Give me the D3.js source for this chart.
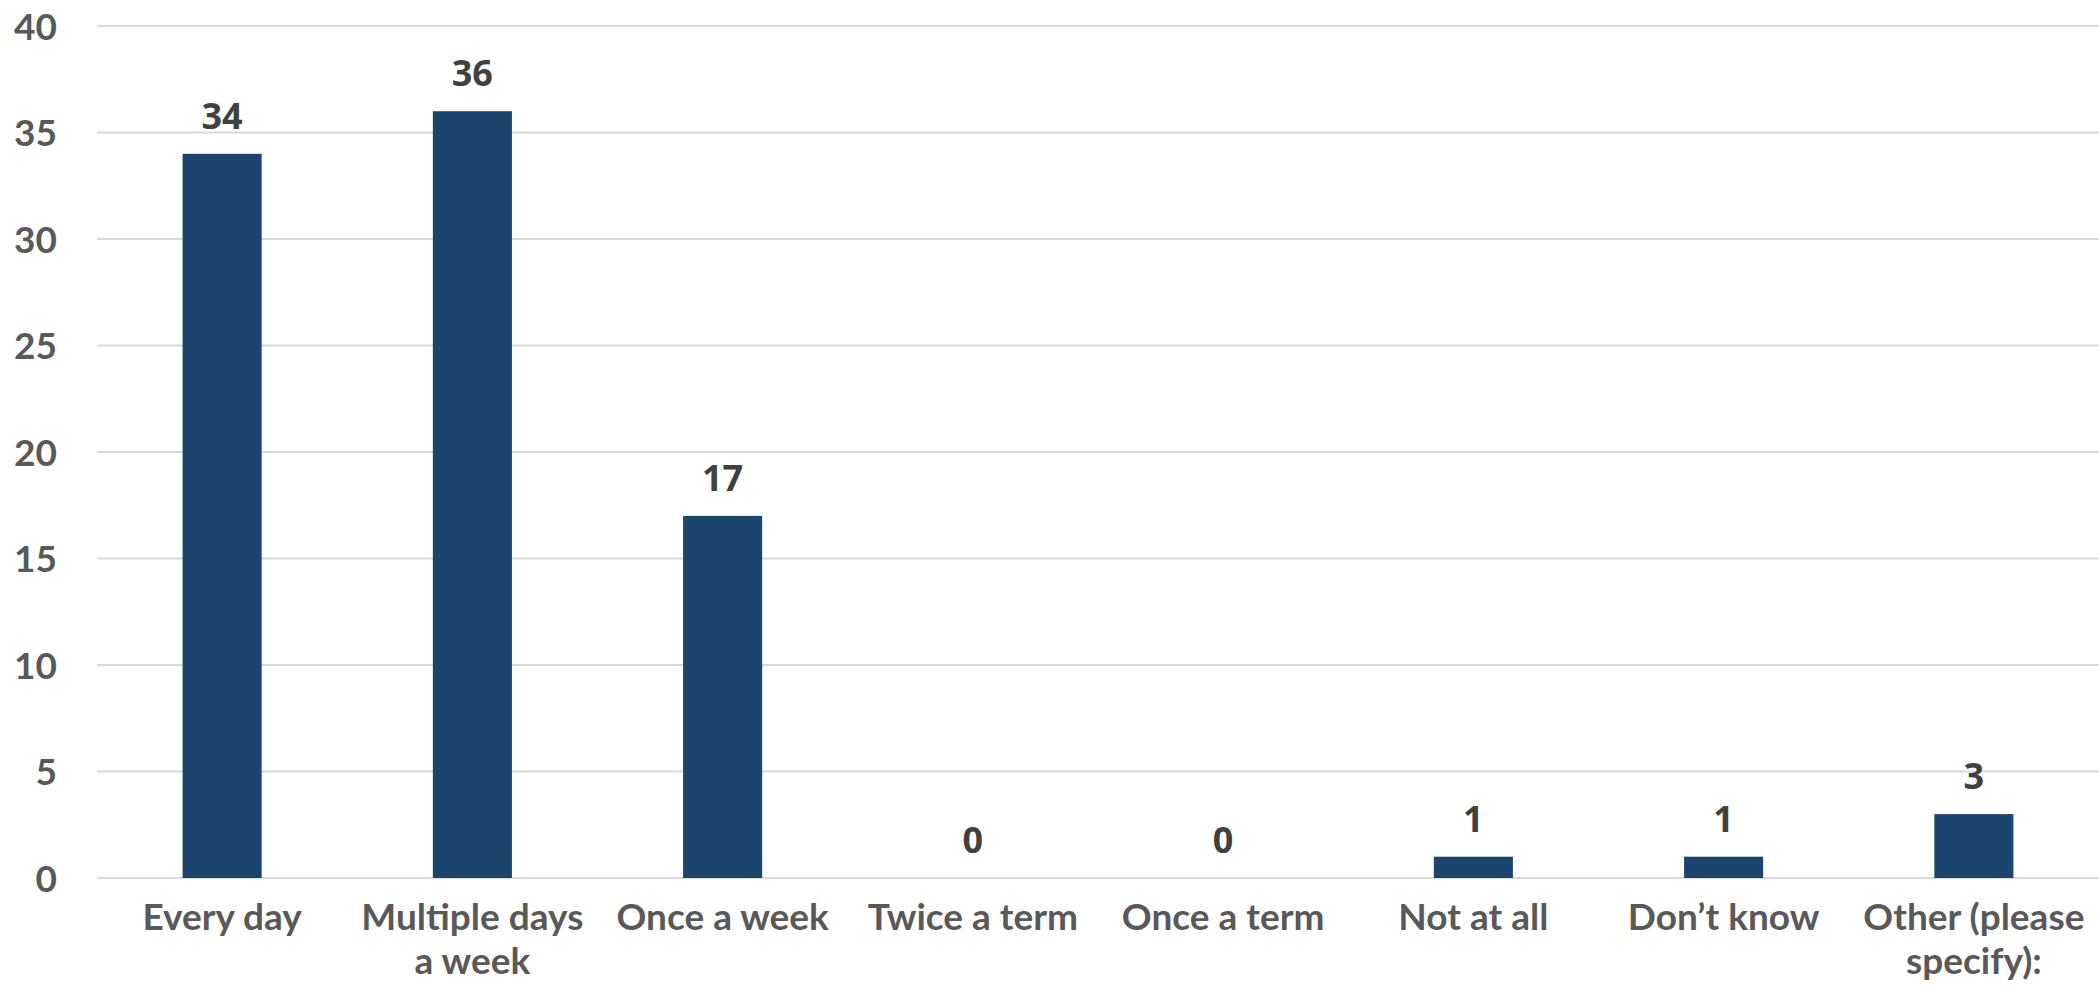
<!DOCTYPE html>
<html>
<head>
<meta charset="utf-8">
<script src="https://cdn.jsdelivr.net/npm/d3@7"></script>
<style>
  html, body { margin: 0; padding: 0; background: #fff; }
  svg { display: block; }
</style>
</head>
<body>
<div id="chart"></div>
<script>
// data
const categories = [
  "Every day",
  "Multiple days\na week",
  "Once a week",
  "Twice a term",
  "Once a term",
  "Not at all",
  "Don\u2019t know",
  "Other (please\nspecify):"
];
const counts = [34, 36, 17, 0, 0, 1, 1, 3];
const yTicks = [0, 5, 10, 15, 20, 25, 30, 35, 40];

const W = 2099, H = 986;
const margin = { top: 26, right: 0, bottom: 108, left: 97 };
const width = W - margin.left - margin.right;
const height = H - margin.top - margin.bottom;

const svg = d3.select("#chart")
  .append("svg")
  .attr("width", W)
  .attr("height", H);

const g = svg.append("g")
  .attr("transform", `translate(${margin.left},${margin.top})`);

const x = d3.scaleBand()
  .domain(categories)
  .range([0, width])
  .paddingInner(0.684)
  .paddingOuter(0.342);

const y = d3.scaleLinear()
  .domain([0, 40])
  .range([height, 0]);

// gridlines
g.append("g")
  .selectAll("line")
  .data(yTicks)
  .enter().append("line")
  .attr("x1", 0)
  .attr("x2", width)
  .attr("y1", d => y(d))
  .attr("y2", d => y(d))
  .attr("stroke", "#d9d9d9")
  .attr("stroke-width", 2);

// y axis labels
const yAxis = d3.axisLeft(y).tickValues(yTicks).tickSize(0).tickPadding(40);
g.append("g")
  .call(yAxis)
  .call(a => a.select(".domain").remove())
  .selectAll("text")
  .attr("fill", "#595959")
  .style("font-family", "Lato, 'Open Sans', sans-serif")
  .style("font-weight", "bold")
  .style("font-size", "37px")
  .attr("dy", "0.36em");

// bars
g.append("g")
  .selectAll("rect")
  .data(counts)
  .enter().append("rect")
  .attr("x", (d, i) => x(categories[i]))
  .attr("y", d => y(d))
  .attr("width", x.bandwidth())
  .attr("height", d => height - y(d))
  .attr("fill", "#1c456d");

// value labels
g.append("g")
  .selectAll("text")
  .data(counts)
  .enter().append("text")
  .attr("x", (d, i) => x(categories[i]) + x.bandwidth() / 2)
  .attr("y", d => y(d) - 25)
  .attr("text-anchor", "middle")
  .attr("fill", "#404040")
  .style("font-family", "'Open Sans', sans-serif")
  .style("font-weight", "bold")
  .style("font-size", "36px")
  .text(d => d);

// category labels
const xAxis = d3.axisBottom(x).tickSize(0).tickFormat("");
const xa = g.append("g")
  .attr("transform", `translate(0,${height})`)
  .call(xAxis);
xa.select(".domain").remove();
xa.selectAll(".tick").each(function (d) {
  const t = d3.select(this).append("text")
    .attr("text-anchor", "middle")
    .attr("fill", "#595959")
    .style("font-family", "Lato, 'Open Sans', sans-serif")
    .style("font-weight", "bold")
    .style("font-size", "37px");
  d.split("\n").forEach((line, i) => {
    t.append("tspan")
      .attr("x", 0)
      .attr("y", 52 + i * 44)
      .text(line);
  });
});
</script>
</body>
</html>
